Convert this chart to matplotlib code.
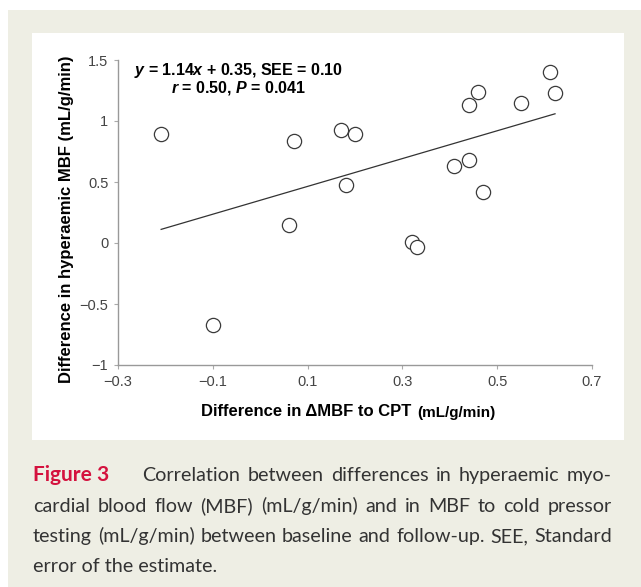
import numpy as np
import matplotlib
matplotlib.use("Agg")
import matplotlib.pyplot as plt
from matplotlib.patches import Rectangle

# data
delta_cpt = [-0.209, -0.10, 0.061, 0.071, 0.170, 0.200, 0.181, 0.320, 0.331,
             0.409, 0.440, 0.470, 0.440, 0.460, 0.550, 0.611, 0.622]
delta_hyp = [0.89, -0.67, 0.15, 0.84, 0.93, 0.89, 0.475, 0.01, -0.03,
             0.63, 0.68, 0.42, 1.13, 1.24, 1.15, 1.40, 1.23]
slope, intercept = 1.14, 0.35
xticks = [-0.3, -0.1, 0.1, 0.3, 0.5, 0.7]
yticks = [-1, -0.5, 0, 0.5, 1, 1.5]

plt.rcParams['font.family'] = ['Liberation Sans', 'DejaVu Sans']
plt.rcParams['mathtext.fontset'] = 'custom'
plt.rcParams['mathtext.it'] = 'Liberation Sans:italic:bold'
plt.rcParams['mathtext.rm'] = 'Liberation Sans:bold'

W, H = 641, 587
fig = plt.figure(figsize=(W / 100, H / 100), dpi=100, facecolor='white')

def px(x, y):
    # pixel (from top-left) -> figure fraction
    return x / W, 1 - y / H

# page background and white panel
beige = '#eeeee4'
fig.patches.append(Rectangle((8 / W, 0), 1 - 8 / W, 1 - 10 / H, transform=fig.transFigure,
                             facecolor=beige, edgecolor='none', zorder=-2))
fig.patches.append(Rectangle(px(32, 440), (624 - 32) / W, (440 - 33) / H,
                             transform=fig.transFigure, facecolor='white',
                             edgecolor='none', zorder=-1))

ax = fig.add_axes([118 / W, 1 - 365 / H, (592 - 118) / W, (365 - 60) / H])
ax.set_facecolor('none')

ax.scatter(delta_cpt, delta_hyp, s=105, facecolors='white', edgecolors='#3a3a3a',
           linewidths=0.9, zorder=3)
xl = np.array([min(delta_cpt), max(delta_cpt)])
ax.plot(xl, slope * xl + intercept, color='#333333', lw=0.9, zorder=2)

ax.set_xlim(-0.3, 0.7)
ax.set_ylim(-1, 1.5)
ax.set_xticks(xticks)
ax.set_xticklabels([f'{t:g}'.replace('-', '\u2212') for t in xticks])
ax.set_yticks(yticks)
ax.set_yticklabels([f'{t:g}'.replace('-', '\u2212') for t in yticks])
for s in ['top', 'right']:
    ax.spines[s].set_visible(False)
for s in ['left', 'bottom']:
    ax.spines[s].set_color('#999999')
    ax.spines[s].set_linewidth(1.0)
ax.tick_params(length=3, width=0.8, color='#aaaaaa', labelsize=10.5,
               labelcolor='#444444', pad=4)

# axis labels
fig.text(*px(411, 412), 'Difference in \u0394MBF to CPT', fontsize=12,
         fontweight='bold', ha='right', va='center')
fig.text(*px(417, 413), '(mL/g/min)', fontsize=11, fontweight='bold',
         ha='left', va='center')
fig.text(*px(67, 219), 'Difference in hyperaemic MBF (mL/g/min)', fontsize=12,
         fontweight='bold', rotation=90, ha='center', va='center')

fig.text(*px(238, 71), '$y$ = 1.14$x$ + 0.35, SEE = 0.10',
         ha='center', va='center', fontsize=11.5, fontweight='bold')
fig.text(*px(239, 88), '$r$ = 0.50, $P$ = 0.041',
         ha='center', va='center', fontsize=11.5, fontweight='bold')

# caption (justified lines)
cap_font = ['Lato', 'DejaVu Sans']
cap_col = '#333333'
cap_size = 14.2
renderer = fig.canvas.get_renderer()

def justified(text, x_left, x_right, y):
    words = text.split()
    arts = [fig.text(0, 0, w, color=cap_col, fontsize=cap_size, family=cap_font,
                     va='baseline') for w in words]
    widths = [a.get_window_extent(renderer).width for a in arts]
    gap = (x_right - x_left - sum(widths)) / max(len(words) - 1, 1)
    x = x_left
    for a, w in zip(arts, widths):
        a.set_position(px(x, y))
        x += w + gap

fig.text(*px(33, 481), 'Figure 3', color='#d4123e', fontsize=15,
         fontweight='bold', family=cap_font, va='baseline')
justified('Correlation between differences in hyperaemic myo-', 142, 612, 481)
justified('cardial blood flow (MBF) (mL/g/min) and in MBF to cold pressor', 33, 612, 512)
justified('testing (mL/g/min) between baseline and follow-up. SEE, Standard', 33, 612, 542)
fig.text(*px(33, 572), 'error of the estimate.', color=cap_col, fontsize=cap_size,
         family=cap_font, va='baseline')

fig.savefig('out.png', dpi=100, facecolor='white')
